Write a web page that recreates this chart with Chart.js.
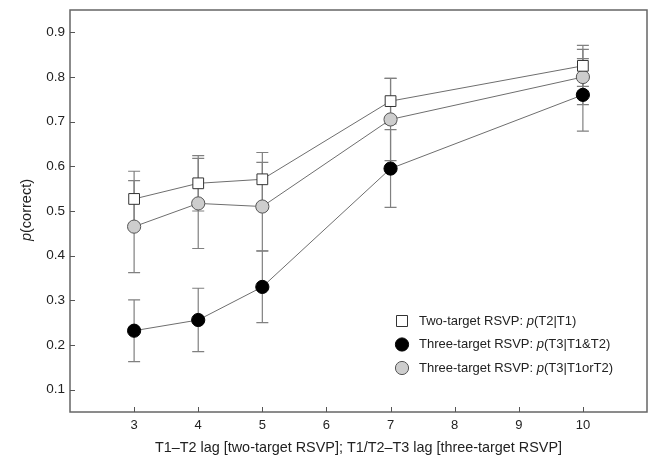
<!DOCTYPE html>
<html><head><meta charset="utf-8">
<script src="https://cdn.jsdelivr.net/npm/chart.js@4.4.1/dist/chart.umd.min.js"></script>
<style>html,body{margin:0;padding:0;background:#fff;}#wrap{width:651px;height:457px;position:relative;}</style>
</head><body><div id="wrap"><canvas id="c" width="651" height="457"></canvas></div>
<script>
const lags = [3, 4, 5, 7, 10];
const twoTarget = [0.527, 0.562, 0.571, 0.746, 0.825];
const twoTargetErr = [0.062, 0.062, 0.060, 0.051, 0.046];
const threeBoth = [0.232, 0.256, 0.330, 0.595, 0.760];
const threeBothErr = [0.069, 0.071, 0.080, 0.087, 0.081];
const threeEither = [0.465, 0.517, 0.510, 0.705, 0.800];
const threeEitherErr = [0.103, 0.101, 0.099, 0.092, 0.062];
const xTickValues = [3, 4, 5, 6, 7, 8, 9, 10];
const yTickValues = [0.1, 0.2, 0.3, 0.4, 0.5, 0.6, 0.7, 0.8, 0.9];
const legendParts = [
  ["Two-target RSVP: ", "p", "(T2|T1)"],
  ["Three-target RSVP: ", "p", "(T3|T1&T2)"],
  ["Three-target RSVP: ", "p", "(T3|T1orT2)"]
];
const xTitle = "T1\u2013T2 lag [two-target RSVP]; T1/T2\u2013T3 lag [three-target RSVP]";
const yTitleParts = ["p", "(correct)"];

const FONT = "'Liberation Sans', Arial, Helvetica, sans-serif";
const toPts = (vals) => lags.map((x, i) => ({x: x, y: vals[i]}));

const styles = [
  {pointStyle: 'rect', pointRadius: 7.6, backgroundColor: '#ffffff', borderColor: '#333333'},
  {pointStyle: 'circle', pointRadius: 6.6, backgroundColor: '#000000', borderColor: '#000000'},
  {pointStyle: 'circle', pointRadius: 6.6, backgroundColor: '#cdcdcd', borderColor: '#555555'}
];
const seriesVals = [twoTarget, threeBoth, threeEither];
const seriesErr = [twoTargetErr, threeBothErr, threeEitherErr];

const datasets = seriesVals.map((v, i) => ({
  label: legendParts[i].join(''),
  data: toPts(v),
  errors: seriesErr[i],
  showLine: true,
  borderColor: '#6e6e6e',
  borderWidth: 1,
  pointStyle: styles[i].pointStyle,
  pointRadius: styles[i].pointRadius,
  pointHoverRadius: styles[i].pointRadius,
  pointBackgroundColor: styles[i].backgroundColor,
  pointBorderColor: styles[i].borderColor,
  pointBorderWidth: 1,
  fill: false,
  tension: 0
}));

const decor = {
  id: 'decor',
  beforeDatasetsDraw(chart) {
    const {ctx, scales: {x, y}} = chart;
    ctx.save();
    ctx.strokeStyle = '#808080';
    ctx.lineWidth = 1.2;
    chart.data.datasets.forEach(ds => {
      ds.data.forEach((p, j) => {
        const e = ds.errors[j];
        const px = x.getPixelForValue(p.x);
        const yt = y.getPixelForValue(p.y + e);
        const yb = y.getPixelForValue(p.y - e);
        ctx.beginPath();
        ctx.moveTo(px, yt); ctx.lineTo(px, yb);
        ctx.moveTo(px - 6, yt); ctx.lineTo(px + 6, yt);
        ctx.moveTo(px - 6, yb); ctx.lineTo(px + 6, yb);
        ctx.stroke();
      });
    });
    ctx.restore();
  },
  afterDraw(chart) {
    const {ctx, chartArea: a, scales: {x, y}} = chart;
    ctx.save();
    // frame
    ctx.strokeStyle = '#666666';
    ctx.lineWidth = 1.5;
    ctx.strokeRect(a.left, a.top, a.right - a.left, a.bottom - a.top);
    // inner ticks
    ctx.lineWidth = 1;
    ctx.strokeStyle = '#555555';
    ctx.beginPath();
    xTickValues.forEach(v => {
      const px = Math.round(x.getPixelForValue(v)) + 0.5;
      ctx.moveTo(px, a.bottom); ctx.lineTo(px, a.bottom - 5);
    });
    yTickValues.forEach(v => {
      const py = Math.round(y.getPixelForValue(v)) + 0.5;
      ctx.moveTo(a.left, py); ctx.lineTo(a.left + 5, py);
    });
    ctx.stroke();
    // y title
    ctx.fillStyle = '#222222';
    ctx.textBaseline = 'middle';
    const fs = 14.5;
    ctx.translate(27, 210);
    ctx.rotate(-Math.PI / 2);
    ctx.font = 'italic ' + fs + 'px ' + FONT;
    const w1 = ctx.measureText(yTitleParts[0]).width;
    ctx.font = fs + 'px ' + FONT;
    const w2 = ctx.measureText(yTitleParts[1]).width;
    let sx = -(w1 + w2) / 2;
    ctx.textAlign = 'left';
    ctx.font = 'italic ' + fs + 'px ' + FONT;
    ctx.fillText(yTitleParts[0], sx, 0);
    ctx.font = fs + 'px ' + FONT;
    ctx.fillText(yTitleParts[1], sx + w1, 0);
    ctx.restore();
    // legend
    ctx.save();
    const lx = a.right - 245, ly0 = a.bottom - 91, dy = 23.5;
    chart.data.datasets.forEach((ds, i) => {
      const cy = ly0 + i * dy;
      ctx.fillStyle = ds.pointBackgroundColor;
      ctx.strokeStyle = ds.pointBorderColor;
      ctx.lineWidth = 1;
      ctx.beginPath();
      if (ds.pointStyle === 'rect') {
        ctx.rect(lx - 5.5, cy - 5.5, 11, 11);
      } else {
        ctx.arc(lx, cy, 6.6, 0, Math.PI * 2);
      }
      ctx.fill(); ctx.stroke();
      const parts = legendParts[i];
      let tx = lx + 17;
      ctx.fillStyle = '#222222';
      ctx.textBaseline = 'middle';
      ctx.textAlign = 'left';
      parts.forEach((t, k) => {
        ctx.font = (k === 1 ? 'italic ' : '') + '13px ' + FONT;
        ctx.fillText(t, tx, cy);
        tx += ctx.measureText(t).width;
      });
    });
    ctx.restore();
  }
};

new Chart(document.getElementById('c'), {
  type: 'scatter',
  data: {datasets: datasets},
  options: {
    responsive: false,
    devicePixelRatio: 1,
    animation: false,
    layout: {autoPadding: false, padding: {top: 10, right: 4, left: 0, bottom: 0}},
    plugins: {legend: {display: false}, tooltip: {enabled: false}},
    scales: {
      x: {
        type: 'linear', min: 2, max: 11,
        afterBuildTicks: s => { s.ticks = xTickValues.map(v => ({value: v})); },
        afterFit: s => { s.height = 45; s.paddingLeft = 0; s.paddingRight = 0; },
        grid: {display: false, drawTicks: false},
        border: {display: false},
        ticks: {padding: 6, color: '#222222', font: {family: FONT, size: 13}},
        title: {display: true, text: xTitle, color: '#222222', font: {family: FONT, size: 14.4}, padding: {top: 4, bottom: 0}}
      },
      y: {
        type: 'linear', min: 0.05, max: 0.95,
        afterBuildTicks: s => { s.ticks = yTickValues.map(v => ({value: v})); },
        afterFit: s => { s.width = 70; s.paddingTop = 0; s.paddingBottom = 0; },
        grid: {display: false, drawTicks: false},
        border: {display: false},
        ticks: {padding: 5, color: '#222222', font: {family: FONT, size: 13.5}, callback: v => v.toFixed(1)}
      }
    }
  },
  plugins: [decor]
});
</script>
</body></html>
